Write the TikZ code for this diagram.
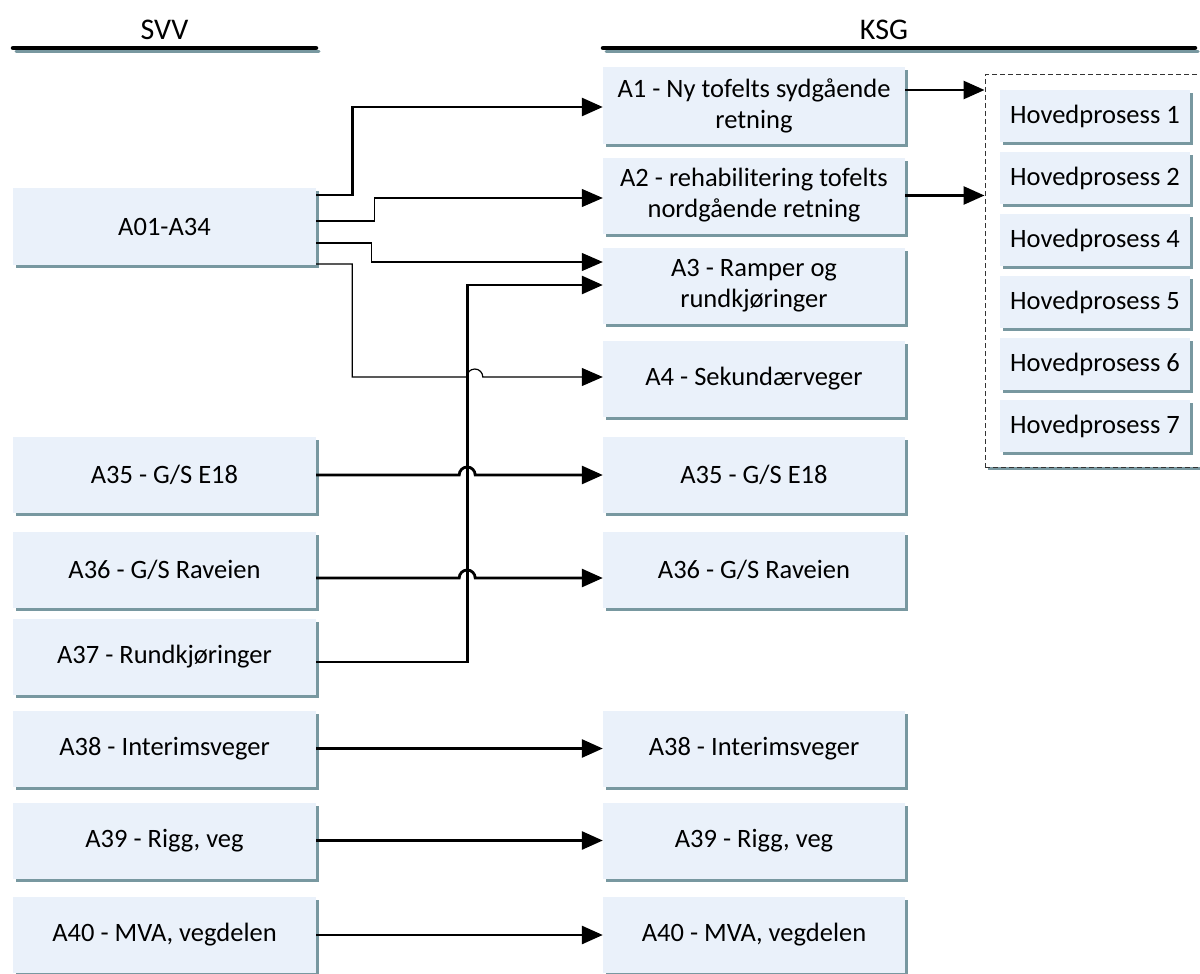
\documentclass[tikz,border=0pt]{standalone}
\usepackage{fontspec}
\setmainfont{Carlito}
\usetikzlibrary{arrows.meta,shadows,calc}
\definecolor{boxfill}{RGB}{234,241,250}
\definecolor{shcol}{RGB}{120,152,160}
\tikzset{
  shad/.style={drop shadow={shadow xshift=3pt,shadow yshift=-3pt,fill=shcol,opacity=1}},
  box/.style={rectangle,fill=boxfill,inner sep=0pt,align=center,
    minimum width=303pt,minimum height=76pt,
    font=\fontsize{26.5}{31}\selectfont,shad},
  hbox/.style={box,minimum width=190pt,minimum height=52pt},
  head/.style={font=\fontsize{30}{36}\selectfont},
  hline/.style={line width=4.5pt,line cap=round},
  hshad/.style={line width=3pt,line cap=round,shcol},
  arrtip/.style={-{Triangle[length=21pt,width=18pt]}},
  thk/.style={line width=2.8pt,arrtip},
  thn/.style={line width=1.2pt,arrtip},
  grpbox/.style={draw=black!80,dash pattern=on 5pt off 3pt,line width=1pt,fill=white,
    inner sep=0pt,minimum width=230pt,minimum height=392pt,shad}
}
\begin{document}
\begin{tikzpicture}[x=1pt,y=-1pt]
\useasboundingbox (0,0) rectangle (1200,974);
% headers
\node[head] (svv) at (164.5,30) {SVV};
\node[head] (ksg) at (884,30) {KSG};
\draw[hshad] (16,52) -- (319,52);
\draw[hline] (13,48) -- (316,48);
\draw[hshad] (606,52) -- (1198,52);
\draw[hline] (603,48) -- (1195,48);
% left column
\node[box,minimum height=77pt] (L0) at (164.5,226.5) {A01-A34};
\node[box] (L35) at (164.5,475) {A35 - G/S E18};
\node[box] (L36) at (164.5,569.5) {A36 - G/S Raveien};
\node[box] (L37) at (164.5,656.5) {A37 - Rundkjøringer};
\node[box] (L38) at (164.5,748.5) {A38 - Interimsveger};
\node[box] (L39) at (164.5,840.5) {A39 - Rigg, veg};
\node[box] (L40) at (164.5,935) {A40 - MVA, vegdelen};
% right column
\node[box,minimum width=302pt] (R1) at (754,105.5) {A1 - Ny tofelts sydgående\\retning};
\node[box,minimum width=302pt] (R2) at (754,195.5) {A2 - rehabilitering tofelts\\nordgående retning};
\node[box,minimum width=302pt] (R3) at (754,285.5) {A3 - Ramper og\\rundkjøringer};
\node[box,minimum width=302pt] (R4) at (754,378.5) {A4 - Sekundærveger};
\node[box,minimum width=302pt] (R35) at (754,475) {A35 - G/S E18};
\node[box,minimum width=302pt] (R36) at (754,569.5) {A36 - G/S Raveien};
\node[box,minimum width=302pt] (R38) at (754,748.5) {A38 - Interimsveger};
\node[box,minimum width=302pt] (R39) at (754,840.5) {A39 - Rigg, veg};
\node[box,minimum width=302pt] (R40) at (754,935) {A40 - MVA, vegdelen};
% group of main processes
\node[grpbox] (grp) at (1100,271) {};
\node[hbox] (H1) at (1095,116) {Hovedprosess 1};
\node[hbox] (H2) at (1095,178) {Hovedprosess 2};
\node[hbox] (H4) at (1095,240) {Hovedprosess 4};
\node[hbox] (H5) at (1095,302) {Hovedprosess 5};
\node[hbox] (H6) at (1095,364) {Hovedprosess 6};
\node[hbox] (H7) at (1095,426) {Hovedprosess 7};
% connectors from A01-A34
\draw[thk] ([yshift=31.5pt]L0.east) -- ++(36,0) |- ([yshift=-1.5pt]R1.west);
\draw[thn] ([yshift=5.5pt]L0.east) -- ++(58,0) |- ([yshift=-2.5pt]R2.west);
\draw[thn] ([yshift=-16.5pt]L0.east) -- ++(55,0) |- ([yshift=23.5pt]R3.west);
\draw[thn] ([yshift=-37.5pt]L0.east) -- ++(36,0) |- ([xshift=-136pt,yshift=1.5pt]R4.west)
   arc[start angle=180,end angle=0,radius=8pt] -- ([yshift=1.5pt]R4.west);
% A37 to A3
\draw[thk] ([yshift=-5.5pt]L37.east) -- ++(151,0) |- ([yshift=0.5pt]R3.west);
% straight ones with jumps
\draw[thk] (L35.east) -- ++(143,0) arc[start angle=180,end angle=0,radius=8pt] -- (R35.west);
\draw[thk] ([yshift=-8.5pt]L36.east) -- ++(143,0) arc[start angle=180,end angle=0,radius=8pt] -- ([yshift=-8.5pt]R36.west);
\draw[thk] (L38.east) -- (R38.west);
\draw[thk] (L39.east) -- (R39.west);
\draw[thk] (L40.east) -- (R40.west);
% to main processes
\draw[thk] ([yshift=15.5pt]R1.east) -- ([yshift=15.5pt]R1.east -| grp.west);
\draw[thk] (R2.east) -- (R2.east -| grp.west);
\end{tikzpicture}
\end{document}
